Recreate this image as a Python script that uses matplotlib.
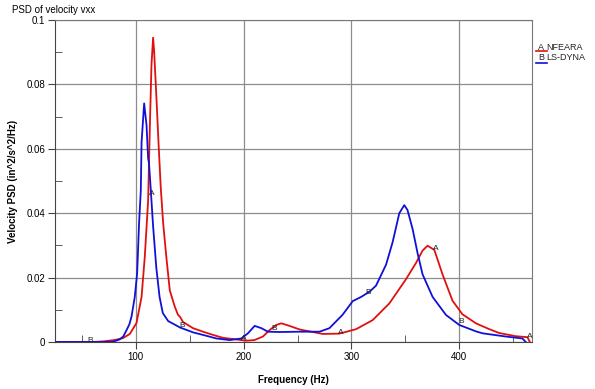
import matplotlib
matplotlib.use('Agg')
import matplotlib.pyplot as plt
import numpy as np
from matplotlib.lines import Line2D

plt.rcParams['font.family'] = ['Liberation Sans', 'DejaVu Sans']

# curve A : NFEARA (red)
freq_a = [25, 50, 60, 70, 80, 88, 94.4, 100.6, 105.3, 108.3, 111.4, 113, 114.5, 116,
          117, 118.5, 121.3, 123.1, 125.3, 128.4, 131.5, 136.1, 139, 141, 143.8,
          153, 162.3, 171.6, 180.8, 193.2, 202.5, 210, 217.9, 224, 230.3, 234.9,
          242.6, 251.9, 258, 273.4, 288.9, 304.4, 319.7, 335.2, 350.6, 359.8, 366,
          370.6, 376.9, 384.5, 393.8, 403, 415.5, 427.8, 437, 452.5, 463.3, 465.5]
psd_a = [0, 0, 0, 0.0002, 0.0006, 0.0012, 0.0025, 0.0059, 0.014, 0.0265, 0.044, 0.067, 0.086, 0.0945,
         0.090, 0.080, 0.060, 0.048, 0.037, 0.026, 0.016, 0.011, 0.0085, 0.0078, 0.0062,
         0.0043, 0.0032, 0.0022, 0.0013, 0.0008, 0.0004, 0.0006, 0.0017, 0.0037, 0.0053, 0.0058,
         0.005, 0.0039, 0.0035, 0.0025, 0.0026, 0.0040, 0.0068, 0.0120, 0.0195, 0.0245, 0.0284,
         0.0299, 0.0286, 0.021, 0.0128, 0.0086, 0.0058, 0.0040, 0.0028, 0.0018, 0.0015, 0.0]

# curve B : LS-DYNA (blue)
freq_b = [25, 50, 70, 79, 85, 88.3, 91.4, 94, 96, 99, 101.2, 103, 104.6, 105.3, 107.7,
          109.9, 111.4, 112.2, 113.9, 116, 119, 122, 125, 130, 141, 153, 162.3, 174.7,
          187, 197.9, 204, 210.2, 216.4, 222.5, 233.3, 251.9, 270.4, 279.6, 291.9, 301.2,
          309, 316.7, 322.8, 332.1, 338.2, 344.4, 349, 352, 356.8, 361.4, 366, 375.3,
          387.7, 400, 415.5, 421.6, 443.2, 458.6, 461.7]
psd_b = [0, 0, 0, 0.0001, 0.0008, 0.0017, 0.0037, 0.0055, 0.0079, 0.014, 0.0213, 0.037, 0.047, 0.062, 0.0741,
         0.0674, 0.057, 0.0555, 0.047, 0.036, 0.023, 0.014, 0.009, 0.0065, 0.0045, 0.003, 0.0022, 0.0011,
         0.0006, 0.0011, 0.0027, 0.005, 0.0043, 0.0032, 0.0031, 0.0032, 0.0032, 0.0043, 0.0085, 0.0127,
         0.014, 0.0156, 0.0175, 0.024, 0.031, 0.040, 0.0425, 0.041, 0.035, 0.0275, 0.021, 0.014,
         0.0084, 0.0053, 0.0033, 0.0027, 0.0017, 0.0011, 0.0]

# curve id letters drawn along the traces
letter_txt = ['B', 'A', 'B', 'A', 'B', 'A', 'B', 'A', 'B', 'A']
letter_x = [57.4, 114.8, 142.6, 200, 228.7, 289.8, 315.7, 377.8, 401.9, 465.7]
letter_y = [0.0006, 0.046, 0.005, 0.0012, 0.0043, 0.0031, 0.0155, 0.029, 0.0065, 0.0016]

legend_labels = ['NFEARA', 'LS-DYNA']

fig = plt.figure(figsize=(5.95, 3.89), dpi=100)
ax = fig.add_axes([55 / 595, 1 - 342 / 389, (532 - 55) / 595, (342 - 20) / 389])

ax.plot(freq_a, psd_a, color='#e01010', lw=1.3, zorder=3)
ax.plot(freq_b, psd_b, color='#1010d8', lw=1.3, zorder=3)

for t, x, y in zip(letter_txt, letter_x, letter_y):
    ax.text(x, y, t, fontsize=6, ha='center', va='center', color='#202020', zorder=4)

ax.set_xlim(25, 467.5)
ax.set_ylim(0, 0.1)
ax.set_xticks([100, 200, 300, 400])
ax.set_xticks([50, 150, 250, 350, 450], minor=True)
ax.set_yticks([0, 0.02, 0.04, 0.06, 0.08, 0.1])
ax.set_yticklabels(['0', '0.02', '0.04', '0.06', '0.08', '0.1'])
ax.set_yticks(np.arange(0.01, 0.1, 0.02), minor=True)
ax.tick_params(which='major', direction='out', length=5, labelsize=7, color='#444444', pad=2)
ax.tick_params(which='minor', direction='in', length=5, color='#444444')
ax.grid(True, which='major', color='#8c8c8c', lw=0.9)
ax.set_axisbelow(True)
for s in ['left', 'bottom']:
    ax.spines[s].set_color('#444444')
for s in ['top', 'right']:
    ax.spines[s].set_color('#777777')

ax.set_xlabel('Frequency (Hz)', fontsize=7, fontweight='bold', va='center')
ax.xaxis.set_label_coords(0.5, (342 - 380) / 322)
ax.set_ylabel('Velocity PSD (in^2/s^2/Hz)', fontsize=7, fontweight='bold', labelpad=6)
fig.text(12 / 595, 1 - 10 / 389, 'PSD of velocity vxx', fontsize=7, va='center', ha='left')

# legend to the right of the plot
for i, (lab, col) in enumerate(zip(legend_labels, ['#e01010', '#1010d8'])):
    yy = 1 - (47 + 11 * i) / 389
    fig.text(538 / 595, yy, 'AB'[i], fontsize=6.5, va='center', ha='left', color='#222222')
    fig.text(546 / 595, yy, lab, fontsize=6.5, va='center', ha='left', color='#222222')
    fig.add_artist(Line2D([536 / 595, 547 / 595], [yy - 4.5 / 389, yy - 4.5 / 389],
                          color=col, lw=1.2, transform=fig.transFigure))

fig.savefig('out.png', dpi=100)
